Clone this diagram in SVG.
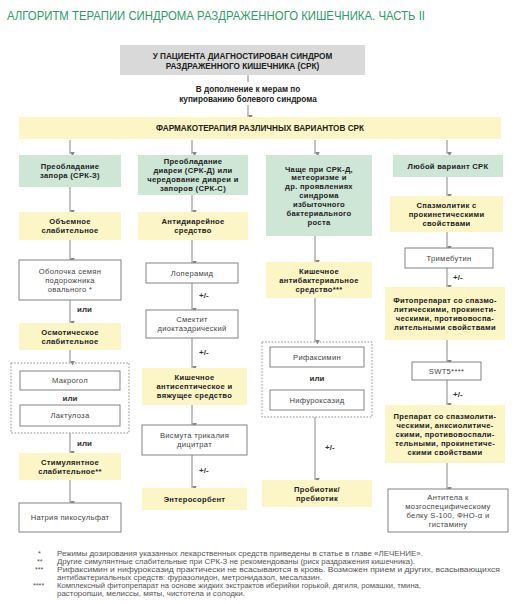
<svg xmlns="http://www.w3.org/2000/svg" width="515" height="604" viewBox="0 0 515 604">
<style>
text{font-family:"Liberation Sans",Arial,sans-serif}
.t{font-size:13px;fill:#2f9a6b}
.h{font-size:8.2px;font-weight:bold;fill:#222;text-anchor:middle}
.b{font-size:7.6px;font-weight:bold;fill:#222;text-anchor:middle;letter-spacing:0.3px}
.r{font-size:7.6px;fill:#444;text-anchor:middle;letter-spacing:0.3px}
.lbl{font-size:8px;font-weight:bold;fill:#333}
.fn{font-size:7.2px;fill:#555}
.gr{fill:#d9d9d9}
.gn{fill:#cde6d6}
.ye{fill:#fcf5c6}
.wh{fill:#fff;stroke:#777;stroke-width:0.9}
.ds{fill:none;stroke:#888;stroke-width:0.9;stroke-dasharray:1.6 1.6}
.ln{stroke:#888;stroke-width:1;fill:none}
.ar{stroke:#888;stroke-width:1;fill:none;marker-end:url(#ah)}
</style>
<defs>
<marker id="ah" markerUnits="userSpaceOnUse" markerWidth="5" markerHeight="6" refX="2.5" refY="5" orient="auto-start-reverse" viewBox="0 0 5 6">
<path d="M0,0 L5,0 L2.5,5 Z" fill="#888" transform="rotate(-90 2.5 2.5)"/>
</marker>
</defs>
<rect width="515" height="604" fill="#fff"/>
<text class="t" x="7" y="20" textLength="418" lengthAdjust="spacingAndGlyphs">АЛГОРИТМ ТЕРАПИИ СИНДРОМА РАЗДРАЖЕННОГО КИШЕЧНИКА. ЧАСТЬ II</text>

<g id="connectors">
<line class="ln" x1="248" y1="75" x2="248" y2="82"/>
<line class="ar" x1="248" y1="105" x2="248" y2="117"/>
<line class="ar" x1="70" y1="140" x2="70" y2="154"/>
<line class="ar" x1="192" y1="140" x2="192" y2="154"/>
<line class="ar" x1="315" y1="140" x2="315" y2="154"/>
<line class="ar" x1="447" y1="140" x2="447" y2="154"/>
<line class="ar" x1="70" y1="187" x2="70" y2="212"/>
<line class="ar" x1="70" y1="240" x2="70" y2="260"/>
<line class="ar" x1="70" y1="300" x2="70" y2="323"/>
<line class="ar" x1="70" y1="350" x2="70" y2="363"/>
<line class="ar" x1="70" y1="433" x2="70" y2="453"/>
<line class="ar" x1="70" y1="480" x2="70" y2="503"/>
<line class="ar" x1="192" y1="195" x2="192" y2="212"/>
<line class="ar" x1="192" y1="240" x2="192" y2="263"/>
<line class="ar" x1="192" y1="283" x2="192" y2="310"/>
<line class="ar" x1="192" y1="338" x2="192" y2="368"/>
<line class="ar" x1="192" y1="405" x2="192" y2="425"/>
<line class="ar" x1="192" y1="455" x2="192" y2="488"/>
<line class="ar" x1="315" y1="236" x2="315" y2="262"/>
<line class="ar" x1="315" y1="298" x2="315" y2="342"/>
<line class="ar" x1="315" y1="417" x2="315" y2="480"/>
<line class="ar" x1="447" y1="177" x2="447" y2="196"/>
<line class="ar" x1="447" y1="232" x2="447" y2="248"/>
<line class="ar" x1="447" y1="268" x2="447" y2="287"/>
<line class="ar" x1="447" y1="340" x2="447" y2="362"/>
<line class="ar" x1="447" y1="380" x2="447" y2="405"/>
<line class="ar" x1="447" y1="463" x2="447" y2="489"/>
<text class="h" x="248" y="92">В дополнение к мерам по</text>
<text class="h" x="248" y="102">купированию болевого синдрома</text>
<text class="lbl" x="77" y="312">или</text>
<text class="lbl" x="77" y="446">или</text>
<text class="lbl" x="199" y="298">+/-</text>
<text class="lbl" x="199" y="355">+/-</text>
<text class="lbl" x="199" y="473">+/-</text>
<text class="lbl" x="325" y="450">+/-</text>
<text class="lbl" x="453" y="280">+/-</text>
<text class="lbl" x="453" y="397">+/-</text>
</g>

<g id="n-top"><rect class="gr" x="120" y="45" width="245" height="30"/>
<text class="h" x="242.5" y="59">У ПАЦИЕНТА ДИАГНОСТИРОВАН СИНДРОМ</text>
<text class="h" x="242.5" y="68.5">РАЗДРАЖЕННОГО КИШЕЧНИКА (СРК)</text></g>

<g id="n-band"><rect class="ye" x="19" y="117" width="482" height="22"/>
<text class="h" x="260" y="131">ФАРМАКОТЕРАПИЯ РАЗЛИЧНЫХ ВАРИАНТОВ СРК</text></g>

<!-- column 1 -->
<g id="n-c1-green"><rect class="gn" x="19" y="155" width="102" height="32"/>
<text class="b" x="70" y="169.3">Преобладание</text>
<text class="b" x="70" y="178.2">запора (СРК-З)</text></g>
<g id="n-c1-bulk"><rect class="ye" x="19" y="212" width="102" height="28"/>
<text class="b" x="70" y="224.3">Объемное</text>
<text class="b" x="70" y="233.2">слабительное</text></g>
<g id="n-c1-psyll"><rect class="wh" x="19" y="260" width="102" height="40"/>
<text class="r" x="70" y="273.8">Оболочка семян</text>
<text class="r" x="70" y="282.7">подорожника</text>
<text class="r" x="70" y="291.6">овального *</text></g>
<g id="n-c1-osm"><rect class="ye" x="19" y="323" width="102" height="27"/>
<text class="b" x="70" y="334.8">Осмотическое</text>
<text class="b" x="70" y="343.7">слабительное</text></g>
<g id="n-c1-group"><rect class="ds" x="11" y="363" width="118" height="70"/>
<rect class="wh" x="20" y="371" width="100" height="19"/>
<text class="r" x="70" y="383.2">Макрогол</text>
<text class="lbl" x="70" y="400.7" text-anchor="middle">или</text>
<rect class="wh" x="20" y="405" width="100" height="21"/>
<text class="r" x="70" y="418.2">Лактулоза</text></g>
<g id="n-c1-stim"><rect class="ye" x="19" y="453" width="102" height="27"/>
<text class="b" x="70" y="464.8">Стимулянтное</text>
<text class="b" x="70" y="473.7">слабительное**</text></g>
<g id="n-c1-pico"><rect class="wh" x="19" y="503" width="102" height="29"/>
<text class="r" x="70" y="520.2">Натрия пикосульфат</text></g>

<!-- column 2 -->
<g id="n-c2-green"><rect class="gn" x="138" y="155" width="110" height="40"/>
<text class="b" x="193" y="164.4">Преобладание</text>
<text class="b" x="193" y="173.3">диареи (СРК-Д) или</text>
<text class="b" x="193" y="182.2">чередование диареи и</text>
<text class="b" x="193" y="191.1">запоров (СРК-С)</text></g>
<g id="n-c2-anti"><rect class="ye" x="138" y="212" width="110" height="28"/>
<text class="b" x="193" y="224.3">Антидиарейное</text>
<text class="b" x="193" y="233.2">средство</text></g>
<g id="n-c2-lop"><rect class="wh" x="146" y="263" width="92" height="20"/>
<text class="r" x="192" y="275.7">Лоперамид</text></g>
<g id="n-c2-smec"><rect class="wh" x="146" y="310" width="92" height="28"/>
<text class="r" x="192" y="322.3">Смектит</text>
<text class="r" x="192" y="331.2">диоктаэдрический</text></g>
<g id="n-c2-antis"><rect class="ye" x="142" y="368" width="105" height="37"/>
<text class="b" x="194.5" y="380.3">Кишечное</text>
<text class="b" x="194.5" y="389.2">антисептическое и</text>
<text class="b" x="194.5" y="398.1">вяжущее средство</text></g>
<g id="n-c2-bism"><rect class="wh" x="142" y="425" width="105" height="30"/>
<text class="r" x="194.5" y="438.3">Висмута трикалия</text>
<text class="r" x="194.5" y="447.2">дицитрат</text></g>
<g id="n-c2-entero"><rect class="ye" x="142" y="488" width="105" height="22"/>
<text class="b" x="194.5" y="501.7">Энтеросорбент</text></g>

<!-- column 3 -->
<g id="n-c3-green"><rect class="gn" x="266" y="155" width="106" height="81"/>
<text class="b" x="319" y="171.5">Чаще при СРК-Д,</text>
<text class="b" x="319" y="180.4">метеоризме и</text>
<text class="b" x="319" y="189.3">др. проявлениях</text>
<text class="b" x="319" y="198.2">синдрома</text>
<text class="b" x="319" y="207.1">избыточного</text>
<text class="b" x="319" y="216">бактериального</text>
<text class="b" x="319" y="224.9">роста</text></g>
<g id="n-c3-antib"><rect class="ye" x="266" y="262" width="106" height="36"/>
<text class="b" x="319" y="273.8">Кишечное</text>
<text class="b" x="319" y="282.7">антибактериальное</text>
<text class="b" x="319" y="291.6">средство***</text></g>
<g id="n-c3-group"><rect class="ds" x="262" y="342" width="110" height="75"/>
<rect class="wh" x="270" y="347" width="94" height="20"/>
<text class="r" x="317" y="359.7">Рифаксимин</text>
<text class="lbl" x="317" y="380.7" text-anchor="middle">или</text>
<rect class="wh" x="270" y="390" width="94" height="20"/>
<text class="r" x="317" y="402.7">Нифуроксазид</text></g>
<g id="n-c3-prob"><rect class="ye" x="262" y="480" width="110" height="27"/>
<text class="b" x="317" y="491.8">Пробиотик/</text>
<text class="b" x="317" y="500.7">пребиотик</text></g>

<!-- column 4 -->
<g id="n-c4-green"><rect class="gn" x="393" y="155" width="110" height="22"/>
<text class="b" x="448" y="168.7">Любой вариант СРК</text></g>
<g id="n-c4-spasm"><rect class="ye" x="390" y="196" width="113" height="36"/>
<text class="b" x="446.5" y="207.8">Спазмолитик с</text>
<text class="b" x="446.5" y="216.7">прокинетическими</text>
<text class="b" x="446.5" y="225.6">свойствами</text></g>
<g id="n-c4-trim"><rect class="wh" x="405" y="248" width="88" height="20"/>
<text class="r" x="449" y="260.7">Тримебутин</text></g>
<g id="n-c4-phyto"><rect class="ye" x="385" y="287" width="120" height="53"/>
<text class="b" x="445" y="302.9">Фитопрепарат со спазмо-</text>
<text class="b" x="445" y="311.8">литическими, прокинети-</text>
<text class="b" x="445" y="320.7">ческими, противовоспа-</text>
<text class="b" x="445" y="329.6">лительными свойствами</text></g>
<g id="n-c4-swt"><rect class="wh" x="412" y="362" width="69" height="18"/>
<text class="r" x="446.5" y="373.7">SWT5****</text></g>
<g id="n-c4-prep"><rect class="ye" x="385" y="405" width="120" height="58"/>
<text class="b" x="445" y="418.9">Препарат со спазмолити-</text>
<text class="b" x="445" y="427.8">ческими, анксиолитиче-</text>
<text class="b" x="445" y="436.7">скими, противовоспали-</text>
<text class="b" x="445" y="445.6">тельными, прокинетиче-</text>
<text class="b" x="445" y="454.5">скими свойствами</text></g>
<g id="n-c4-antib"><rect class="wh" x="388" y="489" width="120" height="43"/>
<text class="r" x="448" y="499.9">Антитела к</text>
<text class="r" x="448" y="508.8">мозгоспецифическому</text>
<text class="r" x="448" y="517.7">белку S-100, ФНО-α и</text>
<text class="r" x="448" y="526.6">гистамину</text></g>

<g id="footnotes">
<text class="fn" x="38" y="556">*</text>
<text class="fn" x="57" y="556" textLength="366" lengthAdjust="spacingAndGlyphs">Режимы дозирования указанных лекарственных средств приведены в статье в главе «ЛЕЧЕНИЕ».</text>
<text class="fn" x="37" y="564">**</text>
<text class="fn" x="57" y="564" textLength="358" lengthAdjust="spacingAndGlyphs">Другие симулянтные слабительные при СРК-З не рекомендованы (риск раздражения кишечника).</text>
<text class="fn" x="35" y="572">***</text>
<text class="fn" x="57" y="572" textLength="443" lengthAdjust="spacingAndGlyphs">Рифаксимин и нифуроксазид практически не всасываются в кровь. Возможен прием и других, всасывающихся</text>
<text class="fn" x="57" y="580" textLength="265" lengthAdjust="spacingAndGlyphs">антибактериальных средств: фуразолидон, метронидазол, месалазин.</text>
<text class="fn" x="33" y="588">****</text>
<text class="fn" x="57" y="588" textLength="364" lengthAdjust="spacingAndGlyphs">Комплексный фитопрепарат на основе жидких экстрактов иберийки горькой, дягиля, ромашки, тмина,</text>
<text class="fn" x="57" y="596" textLength="188" lengthAdjust="spacingAndGlyphs">расторопши, мелиссы, мяты, чистотела и солодки.</text>
</g>
</svg>
